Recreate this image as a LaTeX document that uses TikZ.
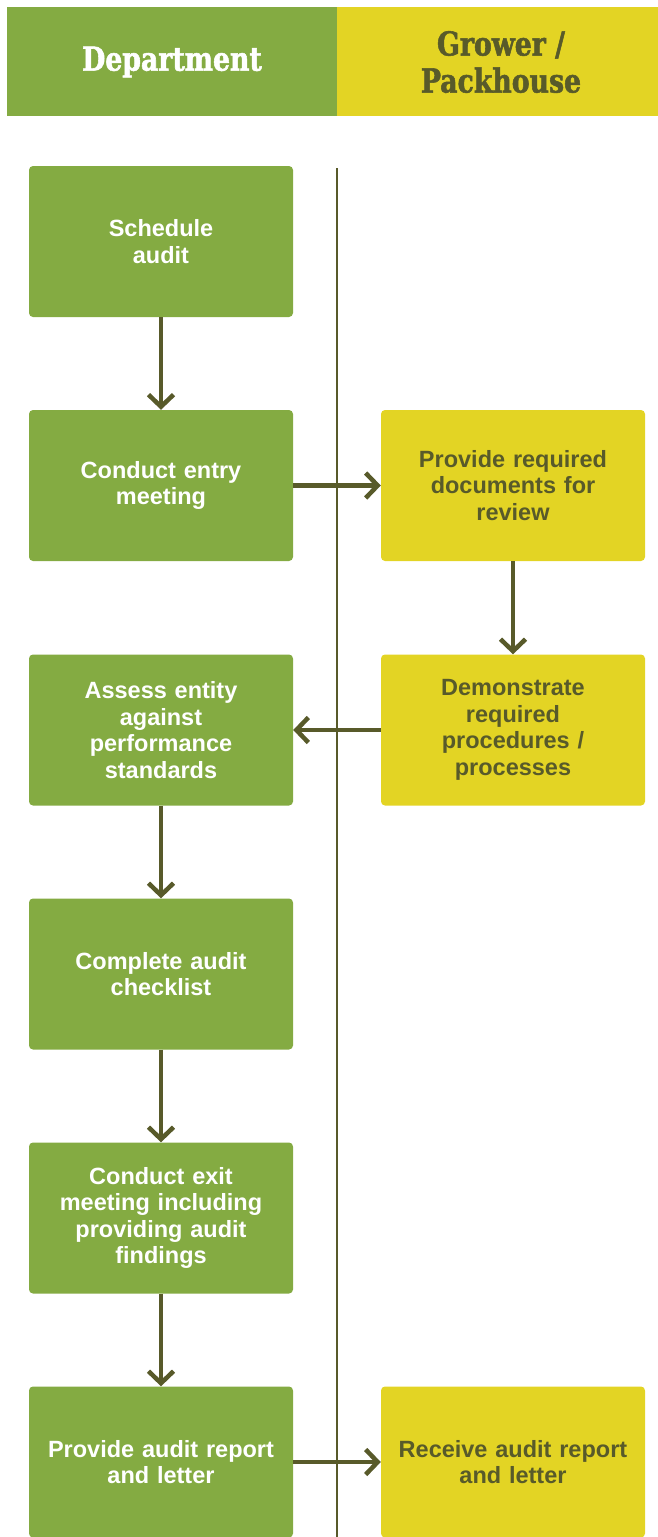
\documentclass[tikz,border=0pt]{standalone}
\usepackage{fontspec}
\setmainfont{Liberation Sans}
\newfontfamily\headfont[FakeStretch=0.9, FakeBold=1.6]{DejaVu Serif Condensed Bold}
\usetikzlibrary{arrows.meta}
\definecolor{dgreen}{HTML}{84AB42}
\definecolor{dyellow}{HTML}{E3D424}
\definecolor{olive}{HTML}{585A2A}
\tikzset{
  x=1pt, y=-1pt,
  gbox/.style={fill=dgreen, rounded corners=4pt, minimum width=264pt, minimum height=151pt, text width=256pt, align=center, text=white, font=\fontsize{23.5}{26.5}\selectfont\bfseries, inner sep=0pt},
  ybox/.style={gbox, fill=dyellow, text=olive},
  flow/.style={draw=olive, line width=4.5pt, -{Straight Barb[length=12pt, width=25pt, line width=4.5pt]}},
  head/.style={font=\headfont\fontsize{33}{37}\selectfont, align=center}
}
\begin{document}
\begin{tikzpicture}
\useasboundingbox (0,0) rectangle (658,1537);
\fill[dgreen] (7,7) rectangle (337,116);
\fill[dyellow] (337,7) rectangle (658,116);
\node[head, text=white] (h1) at (172,62) {Department};
\node[head, text=olive] (h2) at (501,62) {Grower /\\Packhouse};
\coordinate (dtop) at (337,168);
\coordinate (dbot) at (337,1537);
\draw[olive, line width=1.2pt] (dtop) -- (dbot);
\node[gbox] (a1) at (161,241.5) {Schedule\\audit};
\node[gbox] (a2) at (161,485.5) {Conduct entry\\meeting};
\node[ybox] (b2) at (513,485.5) {Provide required\\documents for\\review};
\node[gbox] (a3) at (161,730) {Assess entity\\against\\performance\\standards};
\node[ybox] (b3) at (513,730) {Demonstrate\\required\\procedures /\\processes};
\node[gbox] (a4) at (161,974) {Complete audit\\checklist};
\node[gbox] (a5) at (161,1218) {Conduct exit\\meeting including\\providing audit\\findings};
\node[gbox] (a6) at (161,1462) {Provide audit report\\and letter};
\node[ybox] (b6) at (513,1462) {Receive audit report\\and letter};
\draw[flow] (a1) -- (a2);
\draw[flow] (a2) -- (b2);
\draw[flow] (b2) -- (b3);
\draw[flow] (b3) -- (a3);
\draw[flow] (a3) -- (a4);
\draw[flow] (a4) -- (a5);
\draw[flow] (a5) -- (a6);
\draw[flow] (a6) -- (b6);
\end{tikzpicture}
\end{document}
